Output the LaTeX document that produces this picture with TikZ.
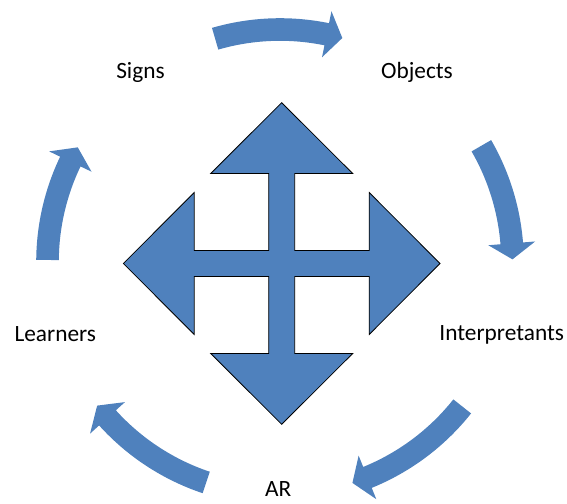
\documentclass[tikz,border=0pt]{standalone}
\usepackage{fontspec}
\setmainfont{Carlito}
\usetikzlibrary{calc}
\definecolor{accentblue}{HTML}{4F81BD}
\tikzset{
	stagename/.style={
		anchor=base,
		inner sep=0pt,
		text=black},
	cyclearrow/.style={fill=accentblue, draw=none},
	crossarrow/.style={
		fill=accentblue,
		draw=black, line width=0.6pt,
		line join=miter},
}

\begin{document}
\begin{tikzpicture}
	[x=0.75pt, y=0.75pt, font=\fontsize{17.5}{21}\selectfont]
	\useasboundingbox (0,0) rectangle (567,503);
	\coordinate (hub) at (280,241);
	\coordinate (mid) at (281.7,239.5);

	% stages round the cycle
	\node[stagename] (signs)    at (140.5,424.7) {Signs};
	\node[stagename] (objects)  at (417,424.7)   {Objects};
	\node[stagename] (interp)   at (501.7,162)   {Interpretants};
	\node[stagename] (ar)       at (278.2,6.5)   {AR};
	\node[stagename] (learners) at (55.3,161.5)  {Learners};

	% curved arrows of the cycle
	\foreach \s/\e in {106.2/78.4, 30/4.6, -38.4/-67.9, -108.5/-137.9, 179.5/154.4}{
		\pgfmathsetmacro\tip{\e-3.95}
		\fill[cyclearrow] ($(hub)+(\s:243.8)$) arc[start angle=\s, end angle=\e, radius=243.8]
			-- ($(hub)+(\e:256)$) -- ($(hub)+(\tip:232.5)$) -- ($(hub)+(\e:209)$)
			-- ($(hub)+(\e:221.2)$) arc[start angle=\e, end angle=\s, radius=221.2] -- cycle;
	}

	% four-way arrow in the middle
	\begin{scope}[shift={(mid)}]
		\draw[crossarrow] (0,160.8) -- (71,90) -- (13,90) -- (13,13) -- (87.5,13) -- (87.5,71)
			-- (158.3,0) -- (87.5,-71) -- (87.5,-13) -- (13,-13) -- (13,-90) -- (71,-90)
			-- (0,-160.8) -- (-71,-90) -- (-13,-90) -- (-13,-13) -- (-87.5,-13) -- (-87.5,-71)
			-- (-158.3,0) -- (-87.5,71) -- (-87.5,13) -- (-13,13) -- (-13,90) -- (-71,90) -- cycle;
	\end{scope}
\end{tikzpicture}
\end{document}
